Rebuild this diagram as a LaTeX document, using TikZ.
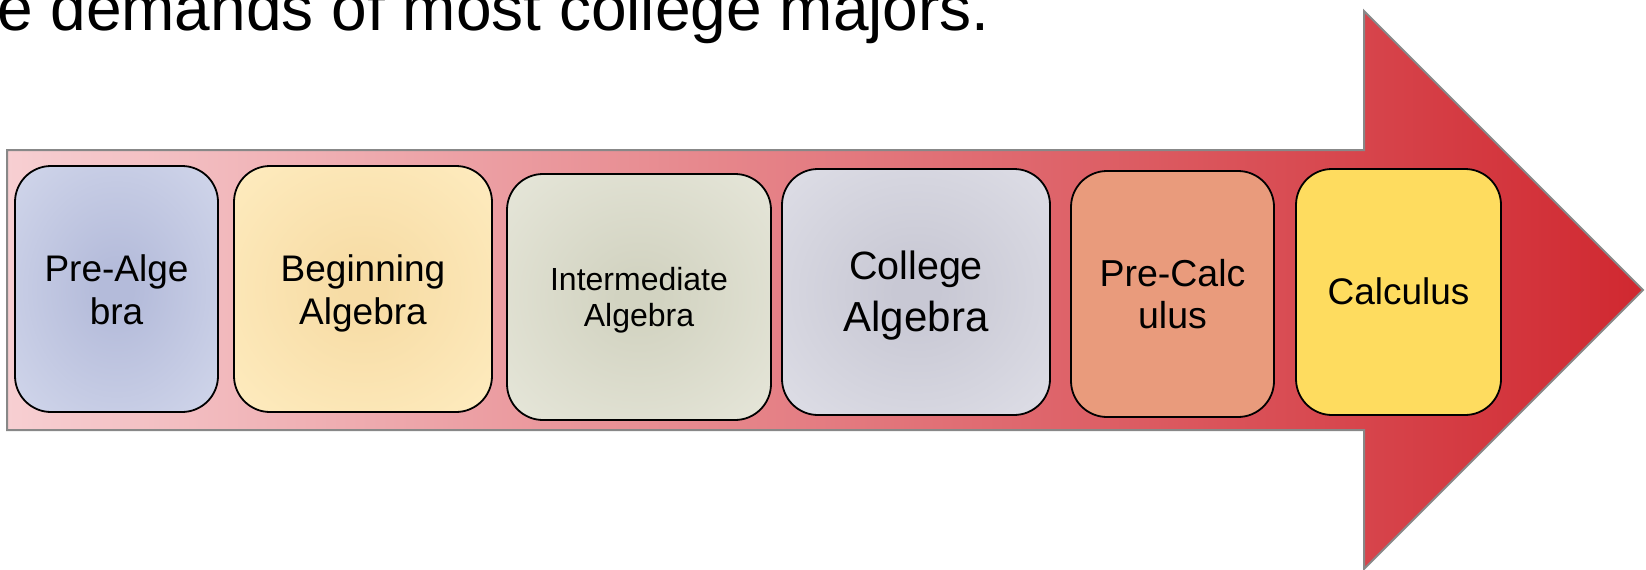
\documentclass[tikz,border=0pt]{standalone}
\usepackage{fontspec}
\setmainfont{Liberation Sans}
\definecolor{arL}{RGB}{247,207,210}
\definecolor{arR}{RGB}{208,40,48}
\definecolor{argray}{RGB}{136,136,136}
\definecolor{b1in}{RGB}{180,187,218}
\definecolor{b1out}{RGB}{213,218,237}
\definecolor{b2in}{RGB}{247,220,165}
\definecolor{b2out}{RGB}{255,238,195}
\definecolor{b3in}{RGB}{210,211,193}
\definecolor{b3out}{RGB}{233,233,221}
\definecolor{b4in}{RGB}{200,200,212}
\definecolor{b4out}{RGB}{225,225,233}
\definecolor{b5fill}{RGB}{233,155,124}
\definecolor{b6fill}{RGB}{254,220,95}
\makeatletter
\pgfdeclareradialshading[tikz@radial@inner,tikz@radial@outer]{softradial}{\pgfpoint{0bp}{0bp}}{color(0bp)=(tikz@radial@inner); color(4bp)=(tikz@radial@inner); color(40bp)=(tikz@radial@outer); color(50bp)=(tikz@radial@outer)}
\makeatother
\begin{document}
\begin{tikzpicture}[x=1pt,y=-1pt,
  stepbox/.style={draw=black, line width=1.8pt, rounded corners=36pt, inner sep=0pt},
  soft/.style 2 args={inner color=#1, outer color=#2, shading=softradial},
  lbl/.style={align=center, inner sep=0pt, text=black}]
\useasboundingbox (0,0) rectangle (1646,570);
% title
\node[anchor=base west, inner sep=0pt, font=\fontsize{64}{70}\selectfont] (title) at (-3,30) {e demands of most college majors.};
% big arrow
\path[draw=argray, line width=2pt, left color=arL, right color=arR]
  (7,150) -- (1364,150) -- (1364,11) -- (1643,290) -- (1364,569) -- (1364,430) -- (7,430) -- cycle;
% boxes
\node[stepbox, soft={b1in}{b1out}, minimum width=203pt, minimum height=246pt] (b1) at (116.5,289) {};
\node[stepbox, soft={b2in}{b2out}, minimum width=258pt, minimum height=246pt] (b2) at (363,289) {};
\node[stepbox, soft={b3in}{b3out}, minimum width=264pt, minimum height=246pt] (b3) at (639,297) {};
\node[stepbox, soft={b4in}{b4out}, minimum width=268pt, minimum height=246pt] (b4) at (916,292) {};
\node[stepbox, fill=b5fill, minimum width=203pt, minimum height=246pt] (b5) at (1172.5,294) {};
\node[stepbox, fill=b6fill, minimum width=205pt, minimum height=246pt] (b6) at (1398.5,292) {};
% labels
\node[lbl, font=\fontsize{37}{43}\selectfont] (l1) at (116.5,290) {Pre-Alge\\bra};
\node[lbl, font=\fontsize{37}{43}\selectfont] (l2) at (363,293.9) {Beginning\\Algebra};
\node[lbl, font=\fontsize{32}{36}\selectfont] (l3) at (639,300.6) {Intermediate\\Algebra};
\node[lbl, font=\fontsize{42}{52}\selectfont] (l4) at (916,296) {{\fontsize{39.5}{52}\selectfont College}\\Algebra};
\node[lbl, font=\fontsize{37.5}{42}\selectfont] (l5) at (1172.5,294.3) {Pre-Calc\\ulus};
\node[lbl, font=\fontsize{37}{43}\selectfont] (l6) at (1398.5,291.5) {Calculus};
\end{tikzpicture}
\end{document}
